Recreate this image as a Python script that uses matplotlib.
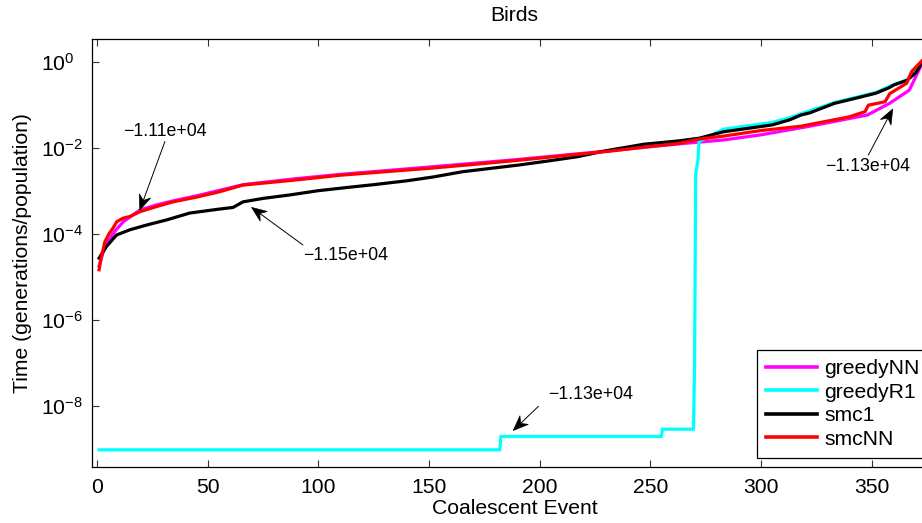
import numpy as np
import matplotlib
matplotlib.use("Agg")
import matplotlib.pyplot as plt
from matplotlib.ticker import NullLocator, FixedLocator
from matplotlib.patches import Polygon, Rectangle
from matplotlib.lines import Line2D
from matplotlib.transforms import IdentityTransform

plt.rcParams['font.family'] = ['Liberation Sans', 'DejaVu Sans']
plt.rcParams['mathtext.fontset'] = 'custom'
plt.rcParams['mathtext.rm'] = 'Liberation Sans'
plt.rcParams['mathtext.it'] = 'Liberation Sans:italic'
plt.rcParams['mathtext.bf'] = 'Liberation Sans:bold'

# ---- data (x = coalescent event, y = log10 time) ----
greedyNN_x = [1, 3, 5, 8, 12, 19.4, 27, 35, 45, 66, 90, 110, 150, 191, 230, 263, 283, 300, 322, 340, 348, 358, 367, 372, 373]
greedyNN_y = [-4.75, -4.40, -4.19, -3.95, -3.72, -3.45, -3.33, -3.23, -3.12, -2.86, -2.72, -2.62, -2.45, -2.27, -2.08, -1.91, -1.82, -1.70, -1.50, -1.32, -1.24, -0.97, -0.66, -0.12, 0.0]

greedyR1_x = [1, 182, 182.5, 255, 255.5, 269.5, 270, 270.5, 271.5, 272, 276, 283, 294, 305, 313, 318, 333, 345, 352, 360, 366, 373]
greedyR1_y = [-9.03, -9.03, -8.72, -8.72, -8.55, -8.55, -7.0, -2.6, -2.3, -1.86, -1.75, -1.57, -1.49, -1.41, -1.30, -1.21, -0.95, -0.80, -0.71, -0.53, -0.42, 0.0]

smc1_x = [1, 4.3, 8.9, 14.9, 22.4, 31.5, 42, 55, 61.5, 66, 75, 87, 100, 114, 125, 140, 152, 165, 178, 191, 205, 217, 230, 247, 263, 272, 283, 294, 305, 313, 318, 322, 333, 345, 352, 358, 360, 366, 370, 373]
smc1_y = [-4.57, -4.30, -4.03, -3.91, -3.80, -3.68, -3.52, -3.43, -3.39, -3.26, -3.18, -3.10, -3.00, -2.92, -2.86, -2.77, -2.68, -2.56, -2.48, -2.40, -2.30, -2.21, -2.07, -1.92, -1.84, -1.78, -1.63, -1.55, -1.47, -1.35, -1.24, -1.19, -0.97, -0.82, -0.73, -0.60, -0.54, -0.43, -0.25, 0.0]

smcNN_x = [1, 2, 3.6, 5.5, 7.3, 9, 11.8, 15, 19.4, 26.9, 34.4, 45, 55, 66, 90, 110, 130, 150, 170, 191, 210, 230, 250, 263, 272, 283, 300, 318, 322, 340, 347, 348.5, 356, 358.2, 365.8, 368, 373]
smcNN_y = [-4.84, -4.55, -4.19, -4.00, -3.87, -3.72, -3.64, -3.60, -3.49, -3.37, -3.26, -3.15, -3.03, -2.87, -2.75, -2.64, -2.56, -2.48, -2.39, -2.29, -2.19, -2.09, -1.97, -1.90, -1.80, -1.73, -1.60, -1.50, -1.46, -1.28, -1.16, -1.01, -0.93, -0.74, -0.50, -0.23, 0.04]

series_names = ['greedyNN', 'greedyR1', 'smc1', 'smcNN']
series_colors = ['#ff00ff', '#00ffff', '#000000', '#ff0000']

# annotations: label, tip (x, log10 y), tail (x, log10 y), text pos, alignment
ann_labels = ['\u22121.11e+04', '\u22121.15e+04', '\u22121.13e+04', '\u22121.13e+04']
ann_tip = [(19.4, -3.45), (69.9, -3.39), (188.1, -8.58), (359.5, -1.10)]
ann_tail = [(30.7, -1.86), (93.0, -4.26), (199.4, -8.02), (348.5, -2.17)]
ann_text = [(30.7, -1.63), (93.0, -4.30), (203.7, -7.94), (348.3, -2.43)]
ann_align = [('center', 'center'), ('left', 'top'), ('left', 'bottom'), ('center', 'center')]

W, H = 922, 523
fig = plt.figure(figsize=(W / 100, H / 100), dpi=100)
ax_l, ax_r, ax_t, ax_b = 92, 937, 39, 467
ax = fig.add_axes([ax_l / W, (H - ax_b) / H, (ax_r - ax_l) / W, (ax_b - ax_t) / H])

xs = [greedyNN_x, greedyR1_x, smc1_x, smcNN_x]
ys = [greedyNN_y, greedyR1_y, smc1_y, smcNN_y]
for x, y, n, c in zip(xs, ys, series_names, series_colors):
    ax.plot(x, 10.0 ** np.array(y), color=c, lw=2.3, label=n, solid_joinstyle='miter')

ax.set_yscale('log')
ax.set_xlim(-2.2, 379.5)
ax.set_ylim(10 ** -9.43, 10 ** 0.53)
ax.yaxis.set_major_locator(FixedLocator([1e-8, 1e-6, 1e-4, 1e-2, 1e0]))
ax.yaxis.set_minor_locator(NullLocator())
ax.set_xticks([0, 50, 100, 150, 200, 250, 300, 350])

fs = 15.2
ax.tick_params(axis='both', which='major', direction='in', length=5, width=0.8,
               top=True, right=True, labelsize=fs, color='#333333')
ax.tick_params(axis='x', pad=8)
ax.tick_params(axis='y', pad=37)
for lab in ax.get_yticklabels():
    lab.set_horizontalalignment('left')
for sp in ax.spines.values():
    sp.set_linewidth(0.9)

ax.set_title('Birds', fontsize=fs, pad=13)
ax.set_xlabel('Coalescent Event', fontsize=fs)
ax.set_ylabel('Time (generations/population)', fontsize=fs)
ax.xaxis.set_label_coords(0.5, -0.074)
ax.yaxis.set_label_coords(-0.071, 0.5)

# arrows with notched heads, drawn in pixel space
head_len, head_hw, notch = 15.0, 6.0, 0.68
for lab, tip, tail, tp, al in zip(ann_labels, ann_tip, ann_tail, ann_text, ann_align):
    p1 = np.array(ax.transData.transform((tip[0], 10 ** tip[1])))
    p0 = np.array(ax.transData.transform((tail[0], 10 ** tail[1])))
    u = (p1 - p0) / np.hypot(*(p1 - p0))
    nrm = np.array([-u[1], u[0]])
    back = p1 - head_len * u
    nb = p1 - notch * head_len * u
    poly = Polygon([p1, back + head_hw * nrm, nb, back - head_hw * nrm], closed=True,
                   facecolor='black', edgecolor='black', lw=0.5,
                   transform=IdentityTransform(), clip_on=False)
    fig.patches.append(poly)
    ln = Line2D([p0[0], nb[0]], [p0[1], nb[1]], color='black', lw=0.7,
                transform=IdentityTransform())
    fig.lines.append(ln)
    ax.text(tp[0], 10 ** tp[1], lab, ha=al[0], va=al[1], fontsize=12.8)

leg = ax.legend(loc='lower left', bbox_to_anchor=(0.7866, 0.0217), borderaxespad=0,
                fontsize=fs, frameon=True, fancybox=False, framealpha=1,
                edgecolor='none', facecolor='none', handlelength=2.45, handletextpad=0.32,
                labelspacing=0.22, borderpad=0.42)
for h in leg.get_lines():
    h.set_linewidth(2.6)

# legend frame continuing past the right edge of the figure (as in the cropped original)
fig.canvas.draw()
bb = leg.get_window_extent()
frame = Rectangle((bb.x0, bb.y0), W + 40 - bb.x0, bb.height, facecolor='white',
                  edgecolor='black', lw=0.9, transform=IdentityTransform(),
                  zorder=4.9, clip_on=False)
ax.add_artist(frame)

fig.savefig('out.png', dpi=100)
